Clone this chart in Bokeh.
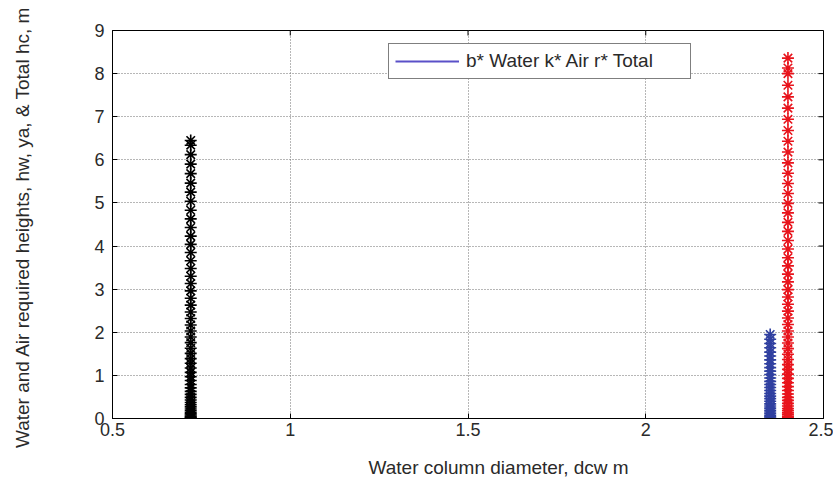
from bokeh.plotting import figure
from bokeh.models import FixedTicker, Legend, LegendItem, Title
from bokeh.embed import file_html
from bokeh.resources import INLINE

# ---- data ----
air_d = 0.72
air_h = [0.01, 0.03, 0.05, 0.08, 0.11, 0.14, 0.18, 0.22, 0.27, 0.32, 0.37, 0.43, 0.49,
         0.56, 0.63, 0.71, 0.79, 0.88, 0.97, 1.07, 1.17, 1.28, 1.39, 1.51, 1.63, 1.76,
         1.89, 2.03, 2.17, 2.32, 2.47, 2.63, 2.79, 2.96, 3.13, 3.30, 3.48, 3.66, 3.85,
         4.04, 4.23, 4.43, 4.63, 4.83, 5.04, 5.25, 5.46, 5.68, 5.90, 6.12, 6.34, 6.45]
water_d = 2.35
water_h = [0.01, 0.04, 0.07, 0.11, 0.15, 0.19, 0.24, 0.29, 0.34, 0.40, 0.46, 0.52,
           0.58, 0.65, 0.72, 0.79, 0.86, 0.94, 1.02, 1.10, 1.18, 1.27, 1.36, 1.45,
           1.54, 1.64, 1.74, 1.84, 1.95]
total_d = 2.40
total_h = [0.02, 0.05, 0.09, 0.13, 0.18, 0.23, 0.29, 0.35, 0.42, 0.49, 0.57, 0.65,
           0.74, 0.83, 0.93, 1.03, 1.14, 1.25, 1.37, 1.49, 1.62, 1.75, 1.89, 2.03,
           2.18, 2.33, 2.49, 2.65, 2.82, 2.99, 3.17, 3.35, 3.54, 3.73, 3.93, 4.13,
           4.34, 4.55, 4.77, 4.99, 5.22, 5.45, 5.69, 5.93, 6.18, 6.43, 6.68, 6.94,
           7.20, 7.46, 7.73, 8.00, 8.13, 8.36]
x_ticks = [0.5, 1, 1.5, 2, 2.5]
y_ticks = [0, 1, 2, 3, 4, 5, 6, 7, 8, 9]
x_label = "Water column diameter, dcw m"
y_label = "Water and Air required  heights, hw, ya, & Total hc, m"
legend_text = "b* Water k* Air r* Total"

FONT = "Liberation Sans"
TXT = "#2a2a2a"
X0, X1, Y0, Y1 = 0.5, 2.5, 0, 9

p = figure(width=833, height=494, x_range=(X0, X1), y_range=(Y0, Y1),
           output_backend="svg", toolbar_location=None,
           min_border_left=112, min_border_right=10, min_border_top=30, min_border_bottom=76)
p.outline_line_color = "black"
p.outline_line_width = 1

for ax, ticks in ((p.xaxis[0], x_ticks), (p.yaxis[0], y_ticks)):
    ax.ticker = FixedTicker(ticks=ticks)
    ax.major_tick_in = 5
    ax.major_tick_out = 0
    ax.minor_tick_line_color = None
    ax.axis_line_color = "black"
    ax.major_label_text_font = FONT
    ax.major_label_text_font_size = "18px"
    ax.major_label_text_color = TXT

p.xaxis[0].major_label_standoff = 4
p.yaxis[0].major_label_standoff = 8
p.yaxis[0].axis_label = y_label
p.yaxis[0].axis_label_text_font = FONT
p.yaxis[0].axis_label_text_font_size = "19px"
p.yaxis[0].axis_label_text_font_style = "normal"
p.yaxis[0].axis_label_text_color = TXT
p.yaxis[0].axis_label_standoff = 58

p.add_layout(Title(text=x_label, align="left", offset=256, standoff=32,
                   text_font=FONT, text_font_size="19px", text_font_style="normal",
                   text_color=TXT), "below")

# mirrored inside tick marks on the top and right edges of the frame
dy = 5 * (Y1 - Y0) / 388
dx = 5 * (X1 - X0) / 711
p.segment(x0=x_ticks, y0=[Y1] * len(x_ticks), x1=x_ticks, y1=[Y1 - dy] * len(x_ticks),
          line_color="black", line_width=1)
p.segment(x0=[X1] * len(y_ticks), y0=y_ticks, x1=[X1 - dx] * len(y_ticks), y1=y_ticks,
          line_color="black", line_width=1)

p.xgrid.ticker = FixedTicker(ticks=x_ticks)
p.ygrid.ticker = FixedTicker(ticks=y_ticks)
for g in (p.xgrid[0], p.ygrid[0]):
    g.grid_line_color = "#6e6e6e"
    g.grid_line_dash = "1 2"
    g.grid_line_width = 1

p.scatter([air_d] * len(air_h), air_h, marker="asterisk", size=12,
          line_color="black", line_width=1.6)
p.scatter([water_d] * len(water_h), water_h, marker="asterisk", size=12,
          line_color="#3040a0", line_width=1.6)
p.scatter([total_d] * len(total_h), total_h, marker="asterisk", size=12,
          line_color="#e8141c", line_width=1.6)

leg_r = p.line([-10, -9], [-10, -9], line_color="#5a50c8", line_width=2)
legend = Legend(items=[LegendItem(label=legend_text, renderers=[leg_r])],
                location=(276, 339), orientation="vertical")
legend.border_line_color = "black"
legend.border_line_width = 1.2
legend.background_fill_alpha = 1
legend.label_text_font = FONT
legend.label_text_font_size = "19px"
legend.label_text_color = TXT
legend.glyph_width = 64
legend.glyph_height = 20
legend.label_height = 20
legend.label_width = 218
legend.padding = 6
legend.margin = 0
legend.spacing = 0
legend.label_standoff = 7
p.add_layout(legend, "center")

open("out.html", "w").write(file_html(p, INLINE))
